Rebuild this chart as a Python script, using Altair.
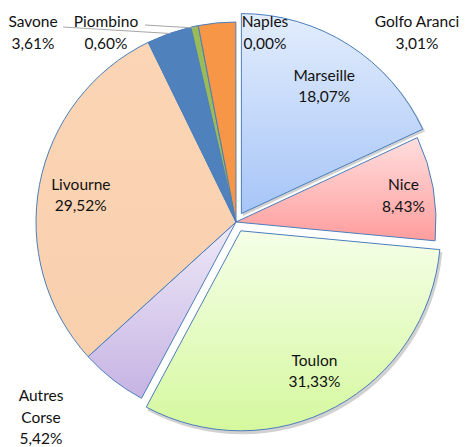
import math
import altair as alt
import pandas as pd

# ---- data ----
names = ["Naples", "Marseille", "Nice", "Toulon", "Autres Corse",
         "Livourne", "Savone", "Piombino", "Golfo Aranci"]
shares = [0.00, 18.07, 8.43, 31.33, 5.42, 29.52, 3.61, 0.60, 3.01]

# ---- style ----
explode = {"Marseille": 10, "Toulon": 10}
fills = {
    "Marseille": ("#e3edfd", "#a6c5f7"),
    "Nice": ("#ffdede", "#ff9d9d"),
    "Toulon": ("#f5ffe8", "#d5f89e"),
    "Autres Corse": ("#eee9f8", "#c6b3e3"),
    "Livourne": ("#fbd5b5", "#f9d0ae"),
    "Savone": ("#4f81bd", "#4f81bd"),
    "Piombino": ("#9bbb59", "#9bbb59"),
    "Golfo Aranci": ("#f79646", "#f79646"),
}
label_radius = {"Marseille": 154, "Nice": 170, "Toulon": 156, "Livourne": 158}
W, H = 452, 439
CX, CY, R = 228, 214, 200
FONT = "Lato"
FS = 15.5
LH = 21.5

def pct(v):
    return f"{v:.2f}".replace(".", ",") + "%"

df = pd.DataFrame({
    "name": names,
    "share": shares,
    "order": list(range(len(names))),
    "explode": [explode.get(n, 0) for n in names],
    "lr": [label_radius.get(n, 0) for n in names],
    "txt": [f"{n}\n{pct(v)}" for n, v in zip(names, shares)],
})

th_scale = alt.Scale(domain=[0, 100], range=[0, 2 * math.pi])

base = alt.Chart(df).transform_window(
    end="sum(share)", sort=[alt.SortField("order")], frame=[None, 0]
).transform_calculate(
    start="datum.end - datum.share",
).transform_calculate(
    mid="(datum.start + datum.end) / 2",
).transform_calculate(
    ang="datum.mid / 100 * 2 * PI",
).transform_calculate(
    cx=f"{CX} + datum.explode * sin(datum.ang)",
    cy=f"{CY} - datum.explode * cos(datum.ang)",
)

enc = dict(
    theta=alt.Theta("start:Q", scale=th_scale),
    theta2="end:Q",
    x=alt.X("cx:Q", scale=None),
    y=alt.Y("cy:Q", scale=None),
)

layers = []
# soft shadow under exploded slices
shadow = base.transform_filter("datum.explode > 0").transform_calculate(
    sx="datum.cx + 1.5", sy="datum.cy + 2.5"
).mark_arc(radius=R + 1, fill="#000000", fillOpacity=0.18).encode(
    theta=alt.Theta("start:Q", scale=th_scale),
    theta2="end:Q",
    x=alt.X("sx:Q", scale=None),
    y=alt.Y("sy:Q", scale=None),
)
layers.append(shadow)

for n, v in zip(names, shares):
    if v <= 0:
        continue
    top, bot = fills[n]
    grad = alt.Gradient(
        gradient="linear",
        stops=[alt.GradientStop(color=top, offset=0), alt.GradientStop(color=bot, offset=1)],
        x1=0, x2=0, y1=0, y2=1,
    )
    layers.append(
        base.transform_filter(alt.datum.name == n)
        .mark_arc(radius=R, fill=grad, stroke="#4a7ebb", strokeWidth=1)
        .encode(**enc)
    )

# inner labels, placed by the library along each slice's mid angle
inner_txt = base.transform_filter("datum.lr > 0").mark_text(
    lineBreak="\n", font=FONT, fontSize=FS, color="#111111",
    align="center", baseline="middle", lineHeight=LH, dy=-LH / 2 + 3,
).encode(
    theta=alt.Theta("mid:Q", scale=th_scale),
    radius=alt.Radius("lr:Q", scale=None),
    x=alt.X("cx:Q", scale=None),
    y=alt.Y("cy:Q", scale=None),
    text="txt:N",
)
layers.append(inner_txt)

# outside labels (layout positions of first line, chart pixels)
outer_names = ["Savone", "Piombino", "Naples", "Golfo Aranci", "Autres Corse"]
outer_lx = [25, 98, 257, 409, 33]
outer_ly = [14, 14, 14, 14, 388]
outer_txt_list = []
for n in outer_names:
    v = shares[names.index(n)]
    t = n.replace(" ", "\n") if n == "Autres Corse" else n
    outer_txt_list.append(f"{t}\n{pct(v)}")
odf = pd.DataFrame({"txt": outer_txt_list, "lx": outer_lx, "ly": outer_ly})
outer_layer = alt.Chart(odf).mark_text(
    lineBreak="\n", font=FONT, fontSize=FS, color="#111111",
    align="center", baseline="middle", lineHeight=LH,
).encode(
    x=alt.X("lx:Q", scale=None), y=alt.Y("ly:Q", scale=None), text="txt:N"
)

# leader lines
ldf = pd.DataFrame({
    "x1": [55, 137], "y1": [19, 17], "x2": [162, 187], "y2": [25.5, 20],
})
leaders = alt.Chart(ldf).mark_rule(color="#a6a6a6", strokeWidth=1).encode(
    x=alt.X("x1:Q", scale=None), y=alt.Y("y1:Q", scale=None),
    x2="x2:Q", y2="y2:Q",
)

chart = alt.layer(*layers, leaders, outer_layer).properties(
    width=W, height=H, padding=0, autosize=alt.AutoSizeParams(type="none")
).configure_view(stroke=None)

chart.save("out.html", embed_options={"renderer": "svg", "actions": False})
